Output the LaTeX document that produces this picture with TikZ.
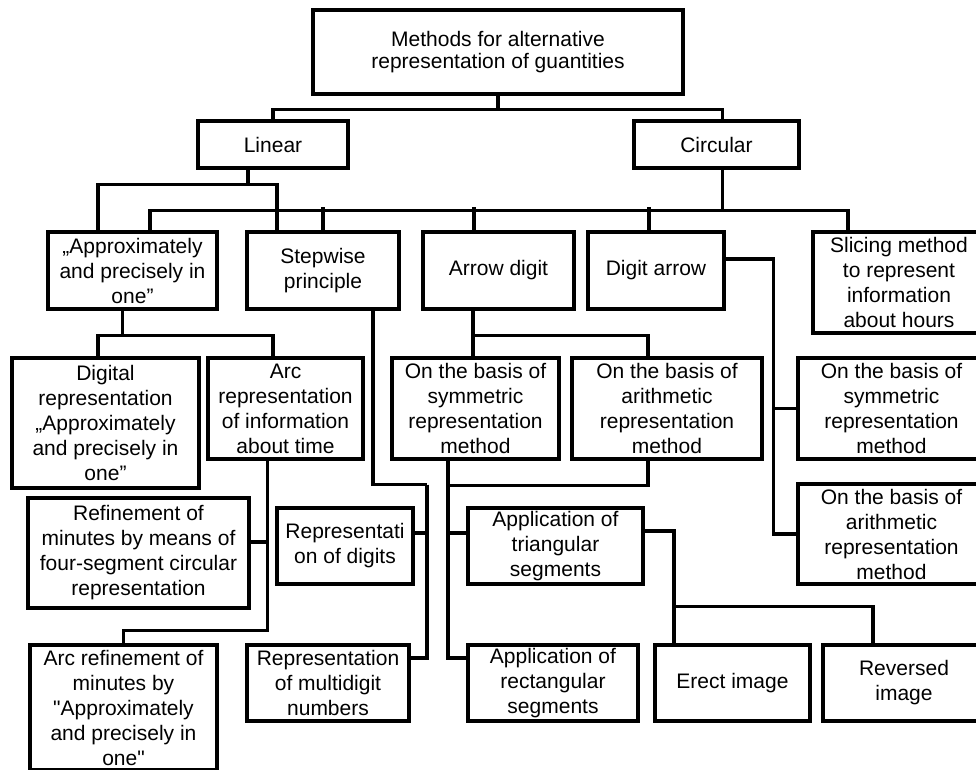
\documentclass[tikz,border=0pt]{standalone}
\usepackage{fontspec}
\setmainfont{Liberation Sans}[Ligatures=TeXOff]
\usetikzlibrary{calc}

\begin{document}
\begin{tikzpicture}[x=0.75pt, y=-0.75pt,
    box/.style 2 args={draw, line width=2.4pt, align=center, inner sep=0pt,
        minimum width=#1*0.75pt, minimum height=#2*0.75pt,
        font=\fontsize{15.75pt}{18.75pt}\selectfont},
    link/.style={line width=2.4pt}]
    \useasboundingbox (0,0) rectangle (976,769);

    % Root and the two main groups
    \node[box={370}{84}, font=\fontsize{15.75pt}{16.5pt}\selectfont] (root) at (498,52) {Methods for alternative\\representation of guantities};
    \node[box={150}{47}] (lin) at (273,144.5) {Linear};
    \node[box={165}{47}] (circ) at (716.5,144.5) {Circular};

    % Second row
    \node[box={169}{77}] (approx) at (132.5,270.5) {„Approximately\\and precisely in\\one”};
    \node[box={152}{77}] (step) at (323,270.5) {Stepwise\\principle};
    \node[box={151}{77}] (adig) at (498.5,270.5) {Arrow digit};
    \node[box={136}{77}] (darr) at (656,270.5) {Digit arrow};
    \node[box={172}{101}] (slice) at (899,282.5) {Slicing method\\to represent\\information\\about hours};

    % Third row
    \node[box={187}{130}] (digrep) at (105.5,423) {Digital\\representation\\„Approximately\\and precisely in\\one”};
    \node[box={155}{101}] (arcrep) at (285.5,408.5) {Arc\\representation\\of information\\about time};
    \node[box={167}{101}] (sym1) at (475.5,408.5) {On the basis of\\symmetric\\representation\\method};
    \node[box={190}{101}] (ari1) at (667,408.5) {On the basis of\\arithmetic\\representation\\method};
    \node[box={187}{101}] (sym2) at (891.5,408.5) {On the basis of\\symmetric\\representation\\method};
    \node[box={187}{100}] (ari2) at (891.5,534) {On the basis of\\arithmetic\\representation\\method};

    % Fourth row
    \node[box={221}{110}] (refine) at (138.5,553) {Refinement of\\minutes by means of\\four-segment circular\\representation};
    \node[box={136}{76}] (rdig) at (345,546) {Representati\\on of digits};
    \node[box={175}{76}] (tri) at (555.5,546) {Application of\\triangular\\segments};

    % Bottom row
    \node[box={187}{125}] (arcref) at (123.5,707.5) {Arc refinement of\\minutes by\\"Approximately\\and precisely in\\one"};
    \node[box={162}{76}] (multi) at (328,683) {Representation\\of multidigit\\numbers};
    \node[box={170}{76}] (rect) at (553,683) {Application of\\rectangular\\segments};
    \node[box={155}{76}] (erect) at (732.5,683) {Erect image};
    \node[box={162}{76}] (rev) at (904,683) {Reversed\\image};

    % Root to Linear and Circular
    \draw[link] (root.south) -- ++(0,14) coordinate (r1);
    \draw[link] (lin.north) |- (r1) -| ($(circ.north)+(6,0)$);

    % Linear
    \draw[link] ($(lin.south)+(-25,0)$) -- ++(0,15) coordinate (l1);
    \draw[link] ($(approx.north)+(-34.5,0)$) |- (l1) -| ($(step.north)+(-46,0)$);

    % Circular
    \draw[link] ($(circ.south)+(6,0)$) -- ++(0,41) coordinate (c1);
    \draw[link] ($(approx.north)+(17.5,0)$) |- (c1) -| ($(slice.north)+(-51,0)$);
    \foreach \n/\dx in {step/0, adig/-24.5, darr/-7}
        \draw[link] ($(\n.north)+(\dx,0)$) -- ++(0,-23);

    % Approximately and precisely in one
    \draw[link] ($(approx.south)+(-10,0)$) -- ++(0,25) coordinate (p1);
    \draw[link] ($(digrep.north)+(-7.5,0)$) |- (p1) -| ($(arcrep.north)+(-12.5,0)$);

    % Arc representation
    \draw[link] ($(arcrep.south)+(-18,0)$) coordinate (a1) |- ($(refine.east)+(0,-11)$);
    \draw[link] (a1) |- ($(arcref.north)+(0,-13)$) -- (arcref.north);

    % Stepwise principle
    \draw[link] ($(step.south)+(50,0)$) -- ++(0,174) -- ++(54,0) coordinate (s1);
    \draw[link] (s1) |- ($(rdig.east)+(0,-13)$);
    \draw[link] (s1) |- ($(multi.east)+(0,-25)$);

    % Arrow digit
    \draw[link] ($(adig.south)+(-25.5,0)$) -- ++(0,25) coordinate (g1);
    \draw[link] (g1) -- (g1 |- sym1.north);
    \draw[link] (g1) -| ($(ari1.north)+(-19,0)$);
    \draw[link] ($(sym1.south)+(-27.5,0)$) coordinate (h1) |- ($(rect.west)+(0,-25)$);
    \draw[link] ($(ari1.south)+(-19,0)$) -- ++(0,25) -| (h1);
    \draw[link] (h1) |- ($(tri.west)+(0,-13)$);

    % Digit arrow
    \draw[link] ($(darr.east)+(0,-11.5)$) -| ($(ari2.west)+(-23,0)$) -- (ari2.west);
    \draw[link] (sym2.west) -- ++(-23,0);

    % Triangular segments
    \draw[link] ($(tri.east)+(0,-15)$) -| ($(erect.north)+(-58.5,0)$);
    \draw[link] ($(erect.north)+(-58.5,-37)$) -| ($(rev.north)+(-31,0)$);
\end{tikzpicture}
\end{document}
